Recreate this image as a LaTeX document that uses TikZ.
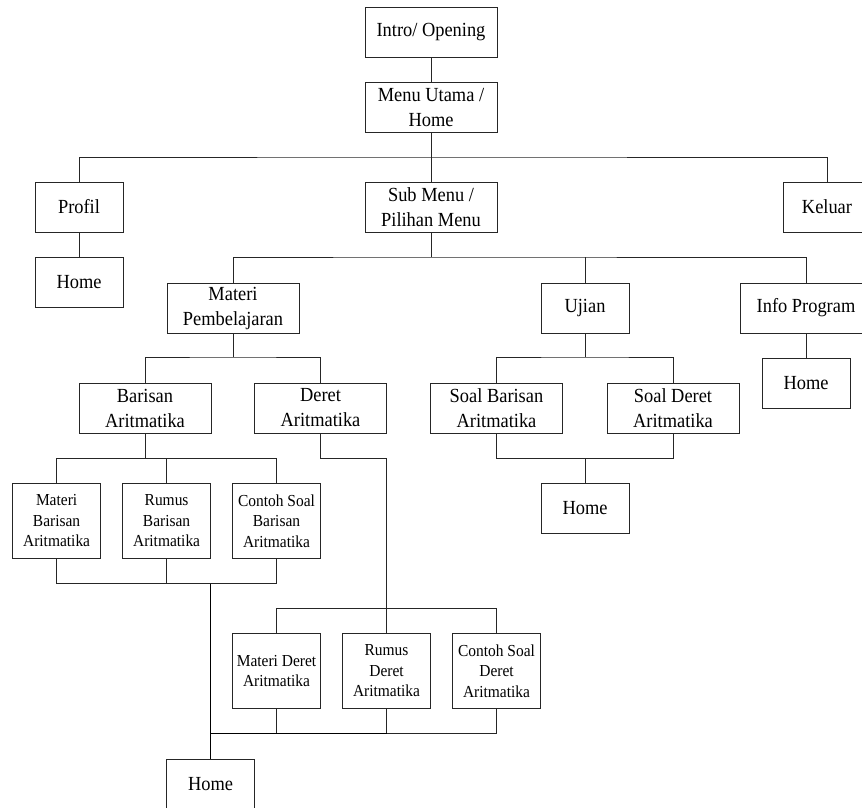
\documentclass[tikz,border=0pt]{standalone}
\usepackage{fontspec}
\setmainfont{Liberation Serif}[FakeStretch=0.92]
\begin{document}
\begin{tikzpicture}[x=1pt,y=-1pt,
  line width=0.9pt, draw=black!85,
  box/.style={draw=black!85, rectangle, inner sep=0pt, align=center,
    font=\fontsize{20}{25}\selectfont},
  bigbox/.style={box, minimum width=132pt, minimum height=50pt},
  smallbox/.style={box, minimum width=88pt, minimum height=50pt},
  tallbox/.style={box, minimum width=88pt, minimum height=75pt,
    font=\fontsize{16.8}{20.5}\selectfont},
  conn/.style={draw=black!85, line width=0.9pt},
  trunk/.style={draw=black, line width=1.6pt}]
\useasboundingbox (0,0) rectangle (862,807);

% level 0-1
\node[bigbox] (intro) at (431,32) {Intro/ Opening};
\node[bigbox] (menu) at (431,107) {Menu Utama /\\Home};
% level 2
\node[smallbox] (profil) at (79,207) {Profil};
\node[bigbox] (sub) at (431,207) {Sub Menu /\\Pilihan Menu};
\node[smallbox] (keluar) at (827,207) {Keluar};
\node[smallbox] (home1) at (79,282) {Home};
% level 3
\node[bigbox] (materi) at (233,308) {Materi\\Pembelajaran};
\node[smallbox] (ujian) at (585,308) {Ujian};
\node[bigbox] (info) at (806,308) {Info Program};
\node[smallbox] (home4) at (806,383) {Home};
% level 4
\node[bigbox] (barisan) at (145,408) {Barisan\\Aritmatika};
\node[bigbox] (deret) at (320.5,408) {Deret\\Aritmatika};
\node[bigbox] (soalb) at (496.5,408) {Soal Barisan\\Aritmatika};
\node[bigbox] (soald) at (673,408) {Soal Deret\\Aritmatika};
\node[smallbox] (home3) at (585,508) {Home};
% level 5
\node[tallbox] (mb) at (56.6,520.8) {Materi\\Barisan\\Aritmatika};
\node[tallbox] (rb) at (166.6,520.8) {Rumus\\Barisan\\Aritmatika};
\node[tallbox] (cb) at (276.5,520.8) {Contoh Soal\\Barisan\\Aritmatika};
% level 6
\node[tallbox] (md) at (276.5,671) {Materi Deret\\Aritmatika};
\node[tallbox] (rd) at (386.5,671) {Rumus\\Deret\\Aritmatika};
\node[tallbox] (cd) at (496.5,671) {Contoh Soal\\Deret\\Aritmatika};
\node[smallbox] (home5) at (210.6,784) {Home};

% bus coordinates
\coordinate (b1) at (431,157);
\coordinate (b2) at (431,257);
\coordinate (b3) at (233,357);
\coordinate (b4) at (585,357);
\coordinate (b5) at (585,458);
\coordinate (b6) at (145,458);
\coordinate (b7) at (210.6,583.5);
\coordinate (d1) at (386.5,458);
\coordinate (b8) at (386.5,608.5);
\coordinate (b9) at (210.6,733.5);

% connectors
\draw[conn] (intro.south) -- (menu.north);
\draw[conn] (menu.south) -- (b1);
\draw[conn] (profil.north) |- (b1) -| (keluar.north);
\draw[conn] (b1) -- (sub.north);
\draw[conn] (profil.south) -- (home1.north);
\draw[conn] (sub.south) -- (b2);
\draw[conn] (materi.north) |- (b2) -| (info.north);
\draw[conn] (ujian.north) -- (ujian.north |- b2);
\draw[conn] (info.south) -- (home4.north);
\draw[conn] (materi.south) -- (b3);
\draw[conn] (barisan.north) |- (b3) -| (deret.north);
\draw[conn] (ujian.south) -- (b4);
\draw[conn] (soalb.north) |- (b4) -| (soald.north);
\draw[conn] (soalb.south) |- (b5) -| (soald.south);
\draw[conn] (b5) -- (home3.north);
\draw[conn] (barisan.south) -- (b6);
\draw[conn] (mb.north) |- (b6) -| (cb.north);
\draw[conn] (rb.north) -- (rb.north |- b6);
\draw[conn] (mb.south) |- (b7) -| (cb.south);
\draw[conn] (rb.south) -- (rb.south |- b7);
\draw[conn] (deret.south) |- (d1) -- (rd.north);
\draw[conn] (md.north) |- (b8) -| (cd.north);
\draw[conn] (md.south) -- (md.south |- b9);
\draw[conn] (rd.south) -- (rd.south |- b9);
\draw[conn] (b9) -| (cd.south);
\draw[trunk] (b7) -- (home5.north);
\draw[trunk] (b9) -- (rd.south |- b9);
\end{tikzpicture}
\end{document}
